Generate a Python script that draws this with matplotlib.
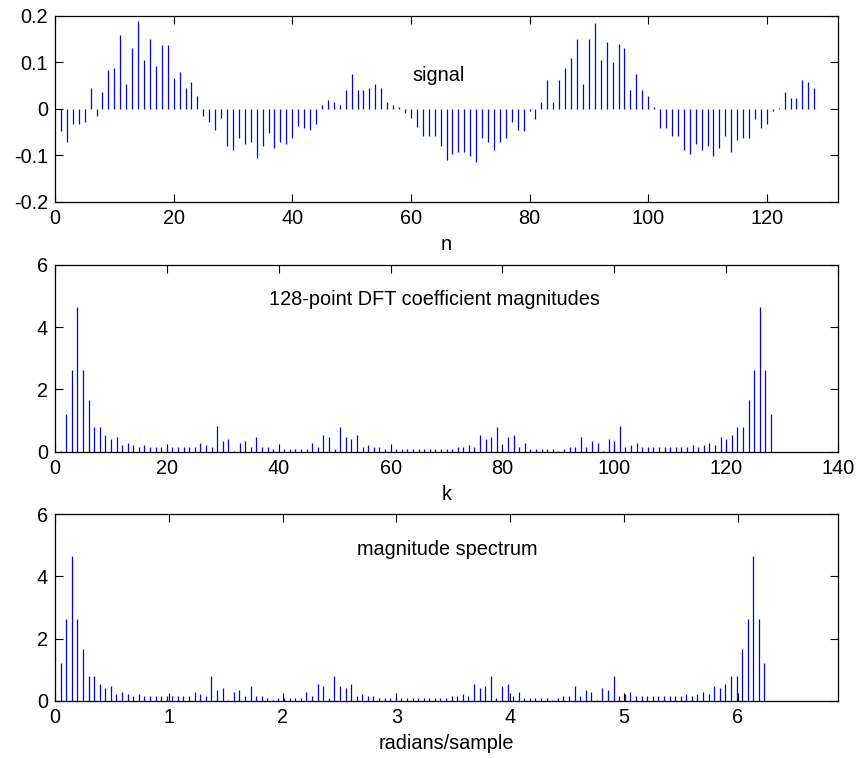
import numpy as np
import matplotlib
matplotlib.use('Agg')
import matplotlib.pyplot as plt

plt.rcParams['font.family'] = ['Liberation Sans', 'DejaVu Sans']
plt.rcParams['axes.unicode_minus'] = False

# signal samples, n = 1..128
signal = [
    -0.049, -0.071, -0.032, -0.032, -0.028, 0.044, -0.015, 0.036, 0.084, 0.087,
    0.158, 0.053, 0.131, 0.189, 0.105, 0.149, 0.092, 0.136, 0.136, 0.066,
    0.080, 0.044, 0.058, 0.027, -0.015, -0.028, -0.046, -0.019, -0.080, -0.089,
    -0.062, -0.076, -0.071, -0.106, -0.080, -0.053, -0.084, -0.071, -0.075, -0.062,
    -0.037, -0.041, -0.045, -0.032, 0.009, 0.019, 0.014, 0.009, 0.040, 0.075,
    0.040, 0.040, 0.044, 0.053, 0.044, 0.014, 0.009, 0.004, -0.010, -0.019,
    -0.040, -0.058, -0.058, -0.058, -0.080, -0.111, -0.097, -0.093, -0.093, -0.102,
    -0.115, -0.062, -0.071, -0.089, -0.071, -0.062, -0.028, -0.045, -0.049, -0.005,
    -0.023, 0.014, 0.062, 0.014, 0.062, 0.087, 0.109, 0.149, 0.053, 0.149,
    0.184, 0.105, 0.144, 0.100, 0.140, 0.131, 0.040, 0.075, 0.040, 0.027,
    0.004, -0.041, -0.041, -0.058, -0.058, -0.089, -0.097, -0.075, -0.089, -0.080,
    -0.102, -0.084, -0.058, -0.093, -0.067, -0.062, -0.062, -0.023, -0.041, -0.032,
    -0.005, 0.002, 0.036, 0.022, 0.022, 0.062, 0.057, 0.044,
]

# 128-point DFT magnitudes, k = 1..128
dft_mag = [
    0.02, 1.20, 2.63, 4.65, 2.63, 1.66, 0.80, 0.80, 0.54, 0.41,
    0.47, 0.21, 0.28, 0.21, 0.15, 0.21, 0.15, 0.15, 0.15, 0.15,
    0.15, 0.15, 0.15, 0.15, 0.14, 0.27, 0.21, 0.14, 0.81, 0.34,
    0.41, 0.02, 0.27, 0.34, 0.14, 0.47, 0.14, 0.14, 0.08, 0.03,
    0.08, 0.08, 0.08, 0.08, 0.08, 0.27, 0.14, 0.54, 0.47, 0.08,
    0.80, 0.47, 0.41, 0.54, 0.14, 0.21, 0.14, 0.14, 0.08, 0.08,
    0.08, 0.08, 0.08, 0.08, 0.08, 0.08, 0.08, 0.08, 0.08, 0.08,
    0.08, 0.14, 0.14, 0.21, 0.14, 0.54, 0.41, 0.47, 0.80, 0.08,
    0.47, 0.54, 0.14, 0.27, 0.08, 0.08, 0.08, 0.08, 0.08, 0.03,
    0.08, 0.14, 0.14, 0.47, 0.14, 0.34, 0.27, 0.02, 0.41, 0.34,
    0.81, 0.14, 0.21, 0.27, 0.15, 0.15, 0.15, 0.15, 0.15, 0.15,
    0.15, 0.15, 0.15, 0.21, 0.15, 0.21, 0.28, 0.21, 0.47, 0.41,
    0.54, 0.80, 0.80, 1.66, 2.63, 4.65, 2.63, 1.20,
]

N = len(signal)
n = np.arange(1, N + 1)
k = np.arange(1, N + 1)
w = 2 * np.pi * (k - 1) / N

FS = 14.3

fig = plt.figure(figsize=(8.59, 7.58), dpi=100)
W, H = 859, 758


def make_axes(top_px, bottom_px):
    return fig.add_axes([55 / W, 1 - bottom_px / H, 783 / W, (bottom_px - top_px) / H])


def style(ax):
    ax.tick_params(direction='in', length=5.8, width=0.8, top=True, right=True,
                   labelsize=FS, pad=5, colors='black')
    for s in ax.spines.values():
        s.set_linewidth(0.9)
        s.set_color('black')


ax1 = make_axes(15.7, 201.7)
ax1.vlines(n, 0, signal, colors='blue', linewidth=0.9)
ax1.set_xlim(0, 132)
ax1.set_ylim(-0.2, 0.2)
ax1.set_xticks([0, 20, 40, 60, 80, 100, 120])
ax1.set_yticks([-0.2, -0.1, 0, 0.1, 0.2])
ax1.set_yticklabels(['-0.2', '-0.1', '0', '0.1', '0.2'])
ax1.text(64.6, 0.072, 'signal', ha='center', va='center', fontsize=FS)
ax1.set_xlabel('n', fontsize=FS, labelpad=5)
style(ax1)

ax2 = make_axes(265, 451.7)
ax2.vlines(k, 0, dft_mag, colors='blue', linewidth=0.9)
ax2.set_xlim(0, 140)
ax2.set_ylim(0, 6)
ax2.set_xticks(np.arange(0, 141, 20))
ax2.set_yticks([0, 2, 4, 6])
ax2.text(67.9, 4.88, '128-point DFT coefficient magnitudes', ha='center', va='center',
         fontsize=FS)
ax2.set_xlabel('k', fontsize=FS, labelpad=5)
style(ax2)

ax3 = make_axes(514.3, 700.7)
ax3.vlines(w, 0, dft_mag, colors='blue', linewidth=0.9)
ax3.set_xlim(0, 6.88)
ax3.set_ylim(0, 6)
ax3.set_xticks([0, 1, 2, 3, 4, 5, 6])
ax3.set_yticks([0, 2, 4, 6])
ax3.text(3.45, 4.88, 'magnitude spectrum', ha='center', va='center', fontsize=FS)
ax3.set_xlabel('radians/sample', fontsize=FS, labelpad=5)
style(ax3)

fig.savefig('out.png', dpi=100, facecolor='white')
